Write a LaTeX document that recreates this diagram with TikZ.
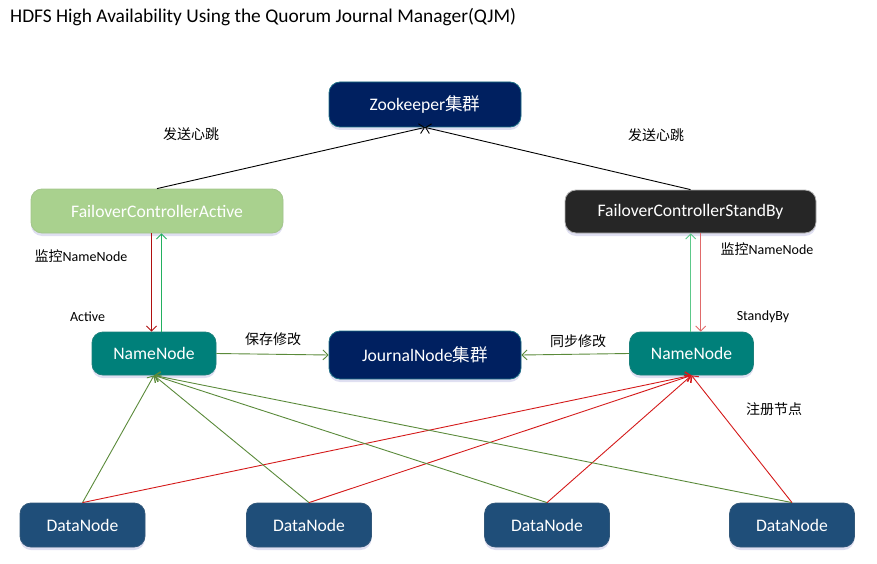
\documentclass[tikz,border=0pt]{standalone}
\usepackage{fontspec}
\setmainfont{Carlito}
\newfontfamily\cjk{Noto Sans CJK SC}
\usetikzlibrary{arrows.meta,shadows}
\definecolor{navy}{HTML}{002060}
\definecolor{navyedge}{HTML}{1B6E84}
\definecolor{fcagreen}{HTML}{A9D18E}
\definecolor{fcsdark}{HTML}{262626}
\definecolor{nnteal}{HTML}{00807A}
\definecolor{dnblue}{HTML}{1F4E79}
\definecolor{olive}{HTML}{5A8A3A}
\definecolor{linkred}{HTML}{D41A1A}
\definecolor{darkred}{HTML}{B01010}
\definecolor{lightred}{HTML}{E06A6A}
\definecolor{brightgreen}{HTML}{22B060}
\definecolor{lightgreen}{HTML}{5CC98A}
\begin{document}
\begin{tikzpicture}[x=1pt,y=-1pt,
  box/.style={rounded corners=11pt, text=white, inner sep=0pt,
    font=\fontsize{17.6}{20}\selectfont, line width=0.8pt,
    drop shadow={shadow xshift=0pt, shadow yshift=-3pt, opacity=0.18, fill=blue!40!gray}},
  navybox/.style={box, fill=navy, draw=navyedge, minimum width=192pt},
  fcabox/.style={box, fill=fcagreen, draw=fcagreen!85!gray, minimum width=252pt, minimum height=44pt},
  fcsbox/.style={box, fill=fcsdark, draw=gray!60, minimum width=251pt, minimum height=43pt},
  nnbox/.style={box, fill=nnteal, draw=nnteal!80!gray, minimum width=124pt, minimum height=43pt},
  dnbox/.style={box, fill=dnblue, draw=dnblue!80!gray, minimum width=125pt, minimum height=44pt},
  lbl/.style={font=\fontsize{14}{16}\selectfont, inner sep=0pt},
  arr/.style={-{Straight Barb[length=5pt,width=10pt]}, line width=0.9pt},
  blackline/.style={arr, draw=black},
  oliveline/.style={arr, draw=olive},
  redline/.style={arr, draw=linkred}
]
\useasboundingbox (0,0) rectangle (877,564);

\node[anchor=west, inner sep=0pt, font=\fontsize{19.4}{22}\selectfont] (title) at (10,17)
  {HDFS High Availability Using the Quorum Journal Manager(QJM)};

\node[navybox, minimum height=45pt] (zk) at (425,104.5) {Zookeeper{\cjk 集群}};
\node[fcabox] (fca) at (157,211) {FailoverControllerActive};
\node[fcsbox] (fcs) at (690.5,211.5) {FailoverControllerStandBy};
\node[nnbox] (nnl) at (154,353.5) {NameNode};
\node[navybox, minimum height=48pt] (jn) at (425,355) {JournalNode{\cjk 集群}};
\node[nnbox] (nnr) at (691.5,353.5) {NameNode};
\node[dnbox] (d1) at (82.5,525) {DataNode};
\node[dnbox] (d2) at (309,525) {DataNode};
\node[dnbox] (d3) at (547,525) {DataNode};
\node[dnbox] (d4) at (792,525) {DataNode};

% labels
\node[lbl] (l1) at (191,134) {\cjk 发送心跳};
\node[lbl] (l2) at (656,135) {\cjk 发送心跳};
\node[lbl] (l3) at (81,256) {{\cjk 监控}NameNode};
\node[lbl] (l4) at (767,249) {{\cjk 监控}NameNode};
\node[lbl] (l5) at (87.5,316.5) {Active};
\node[lbl] (l6) at (763,316.5) {StandyBy};
\node[lbl] (l7) at (273,339) {\cjk 保存修改};
\node[lbl] (l8) at (578,341) {\cjk 同步修改};
\node[lbl] (l9) at (774,409) {\cjk 注册节点};

% heartbeat lines
\draw[blackline] (fca.north) -- (zk.south);
\draw[blackline] (fcs.north) -- (zk.south);

% monitor arrows
\coordinate (xa) at (151.5,0);
\coordinate (xb) at (161.5,0);
\coordinate (xc) at (690.7,0);
\coordinate (xd) at (700.7,0);
\draw[arr, draw=darkred] (fca.south -| xa) -- (nnl.north -| xa);
\draw[arr, draw=brightgreen] (nnl.north -| xb) -- (fca.south -| xb);
\draw[arr, draw=lightgreen] (nnr.north -| xc) -- (fcs.south -| xc);
\draw[arr, draw=lightred] (fcs.south -| xd) -- (nnr.north -| xd);

% journal
\draw[oliveline] (nnl.east) -- (jn.west);
\draw[oliveline] (nnr.west) -- (jn.east);

% datanodes
\foreach \d in {d1,d2,d3,d4}{
  \draw[oliveline] (\d.north) -- (nnl.south);
  \draw[redline] (\d.north) -- (nnr.south);
}
\end{tikzpicture}
\end{document}
